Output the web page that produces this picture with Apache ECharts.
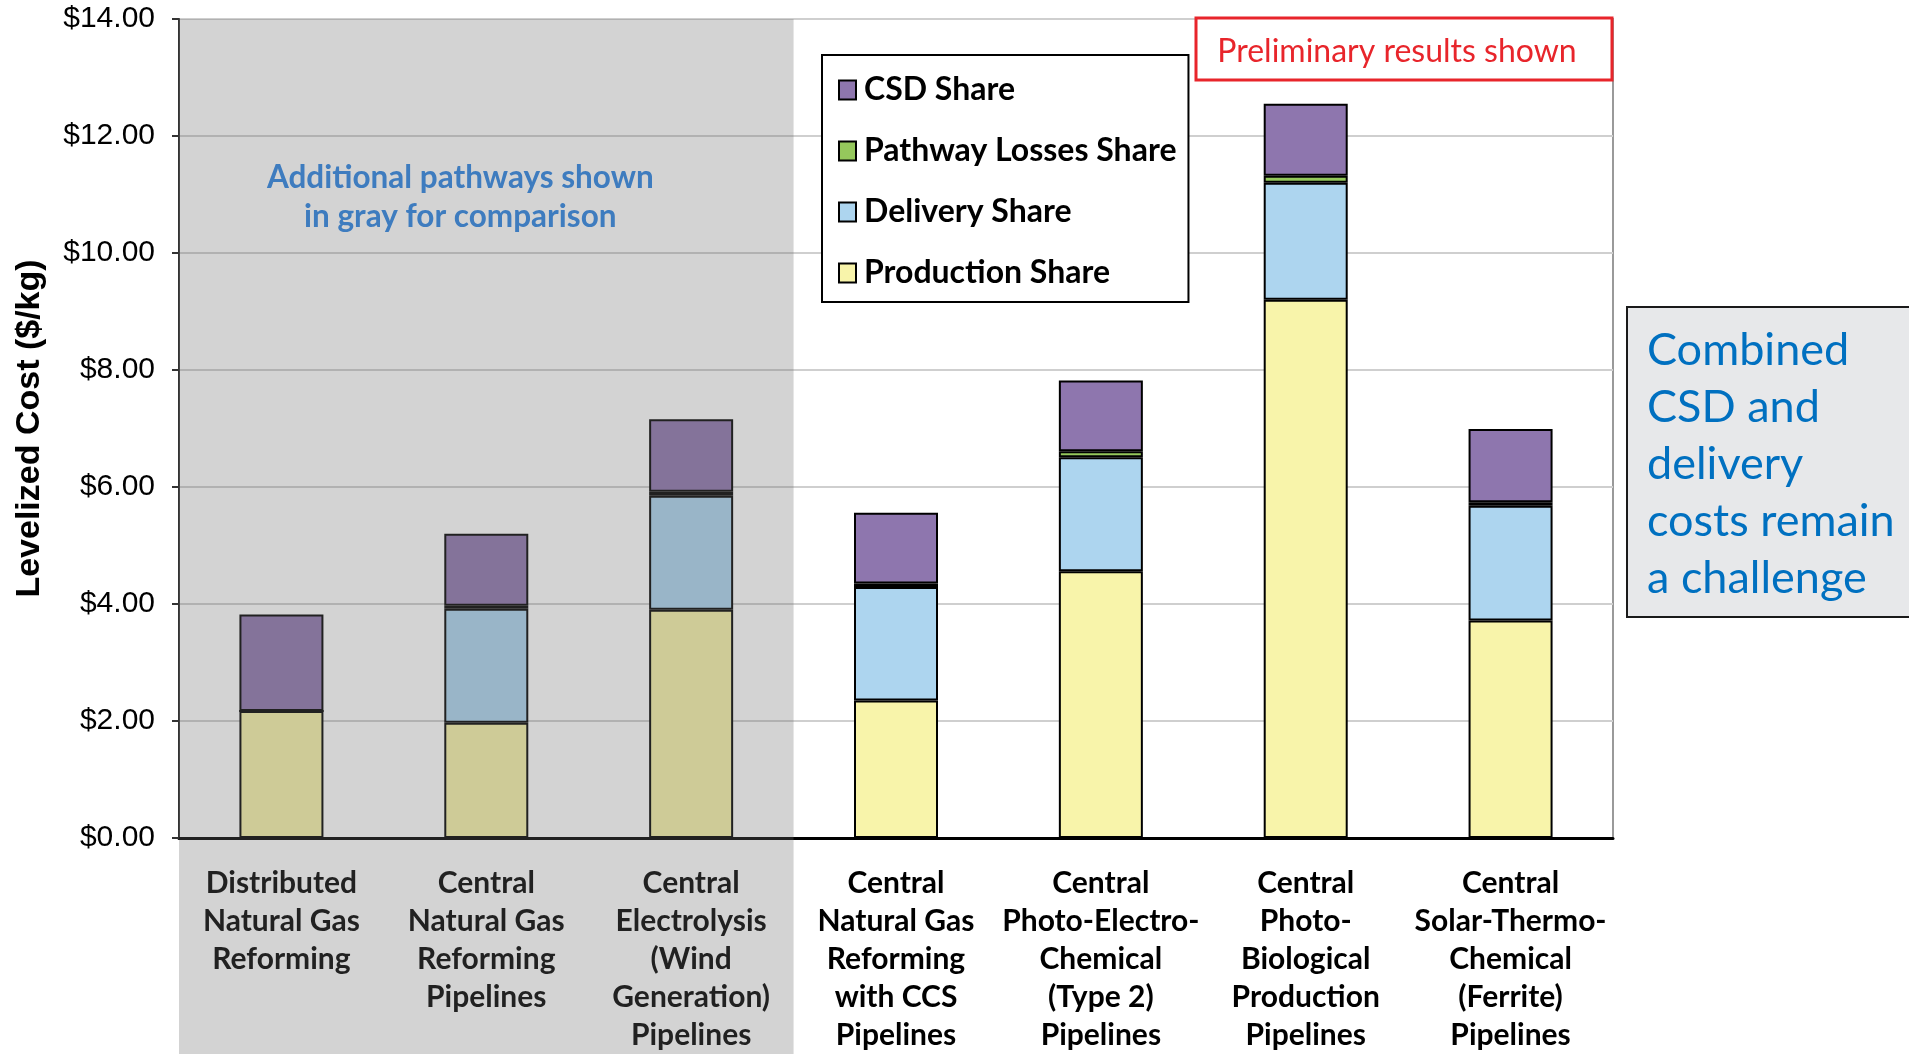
<!DOCTYPE html>
<html>
<head>
<meta charset="utf-8">
<script src="https://cdn.jsdelivr.net/npm/echarts@6/dist/echarts.min.js"></script>
<style>
html, body { margin: 0; padding: 0; background: #fff; }
#container { width: 1909px; height: 1054px; }
</style>
</head>
<body>
<div id="container"></div>
<script>
var categories = [
    'Distributed\nNatural Gas\nReforming',
    'Central\nNatural Gas\nReforming\nPipelines',
    'Central\nElectrolysis\n(Wind\nGeneration)\nPipelines',
    'Central\nNatural Gas\nReforming\nwith CCS\nPipelines',
    'Central\nPhoto-Electro-\nChemical\n(Type 2)\nPipelines',
    'Central\nPhoto-\nBiological\nProduction\nPipelines',
    'Central\nSolar-Thermo-\nChemical\n(Ferrite)\nPipelines'
];
var production = [2.17, 1.97, 3.90, 2.35, 4.56, 9.20, 3.72];
var delivery   = [0, 1.95, 1.95, 1.94, 1.95, 2.00, 1.96];
var losses     = [0, 0.05, 0.07, 0.06, 0.10, 0.12, 0.06];
var csd        = [1.65, 1.23, 1.24, 1.21, 1.21, 1.23, 1.25];
var yTicks = [0, 2, 4, 6, 8, 10, 12, 14];
var grayCount = 3; // first pathways shown in gray

var W = 1909, H = 1054;
var gLeft = 179, gRight = 296, gTop = 19, gBottom = 213;
var catW = (W - gLeft - gRight) / categories.length;

var myChart = echarts.init(document.getElementById('container'));

function barSeries(name, data, color) {
    return {
        name: name,
        type: 'bar',
        stack: 'cost',
        data: data,
        barWidth: 84,
        itemStyle: { color: color, borderColor: '#000', borderWidth: 2 },
        emphasis: { disabled: true }
    };
}

var option = {
    animation: false,
    grid: {
        left: gLeft, right: gRight, top: gTop, bottom: gBottom,
        show: true, borderColor: '#9a9a9a', borderWidth: 2
    },
    legend: {
        data: ['CSD Share', 'Pathway Losses Share', 'Delivery Share', 'Production Share'],
        orient: 'vertical',
        left: 822, top: 55,
        padding: [19, 12, 13, 16],
        itemWidth: 17, itemHeight: 19, itemGap: 29,
        icon: 'rect',
        borderColor: '#000', borderWidth: 2,
        backgroundColor: '#fff',
        textStyle: {
            fontFamily: 'Lato', fontWeight: 'bold', fontSize: 32,
            lineHeight: 32, color: '#000', padding: [0, 0, 0, 3]
        }
    },
    xAxis: {
        type: 'category',
        data: categories,
        axisLine: { lineStyle: { color: '#000', width: 3 } },
        axisTick: { length: 9, lineStyle: { color: '#000', width: 2 } },
        axisLabel: {
            interval: 0, margin: 26,
            fontFamily: 'Lato', fontWeight: 'bold', fontSize: 30,
            lineHeight: 38, color: '#000'
        }
    },
    yAxis: {
        type: 'value',
        min: yTicks[0], max: yTicks[yTicks.length - 1], interval: 2,
        name: 'Levelized Cost ($/kg)',
        nameLocation: 'middle', nameGap: 132, nameRotate: 90,
        nameTextStyle: { fontFamily: 'Liberation Sans', fontWeight: 'bold', fontSize: 34, color: '#000' },
        axisLine: { show: true, lineStyle: { color: '#333', width: 2 } },
        axisTick: { show: true, length: 7, lineStyle: { color: '#333', width: 2 } },
        splitLine: { lineStyle: { color: '#cfcfcf', width: 2 } },
        axisLabel: {
            margin: 24,
            fontFamily: 'Liberation Sans', fontSize: 30, color: '#000',
            formatter: function (v) { return '$' + v.toFixed(2); }
        }
    },
    series: [
        barSeries('Production Share', production, '#F8F4AA'),
        barSeries('Delivery Share', delivery, '#ADD5EF'),
        barSeries('Pathway Losses Share', losses, '#95C85C'),
        barSeries('CSD Share', csd, '#8E76AE')
    ],
    graphic: [
        {
            type: 'rect', z: 100, silent: true,
            shape: { x: gLeft, y: gTop, width: catW * grayCount, height: H - gTop },
            style: { fill: 'rgba(108,108,108,0.3)' }
        },
        {
            type: 'text', z: 110,
            x: gLeft + catW * grayCount / 2 - 26, y: 158,
            style: {
                text: 'Additional pathways shown\nin gray for comparison',
                fill: '#3E7CBF', font: 'bold 31.5px Lato', lineHeight: 39,
                align: 'center', verticalAlign: 'top'
            }
        },
        {
            type: 'rect', z: 110,
            shape: { x: 1196, y: 18, width: 416, height: 62 },
            style: { fill: '#fff', stroke: '#E8252B', lineWidth: 3 }
        },
        {
            type: 'text', z: 111,
            x: 1397, y: 52,
            style: {
                text: 'Preliminary results shown',
                fill: '#E8252B', font: '32px Lato',
                align: 'center', verticalAlign: 'middle'
            }
        },
        {
            type: 'rect', z: 110,
            shape: { x: 1627, y: 307, width: 320, height: 310 },
            style: { fill: '#E7E8EA', stroke: '#1a1a1a', lineWidth: 2 }
        },
        {
            type: 'text', z: 111,
            x: 1647, y: 322,
            style: {
                text: 'Combined\nCSD and\ndelivery\ncosts remain\na challenge',
                fill: '#0070C0', font: '45px Lato', lineHeight: 57,
                align: 'left', verticalAlign: 'top'
            }
        }
    ]
};

myChart.setOption(option);
window.onresize = function () { myChart.resize(); };
</script>
</body>
</html>
